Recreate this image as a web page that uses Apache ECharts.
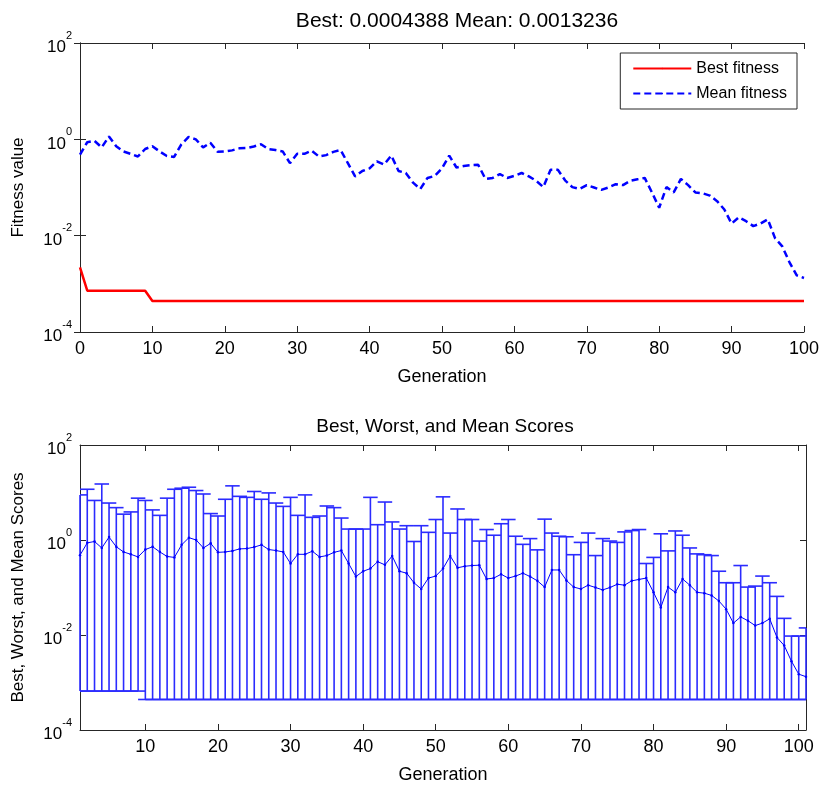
<!DOCTYPE html>
<html>
<head>
<meta charset="utf-8">
<script src="https://cdn.jsdelivr.net/npm/echarts@6/dist/echarts.min.js"></script>
<style>
  html, body { margin: 0; padding: 0; background: #fff; }
  #chart { width: 822px; height: 785px; }
</style>
</head>
<body>
<div id="chart"></div>
<script>
// generations 0..100
const generations = Array.from({length: 101}, (_, i) => i);

// top plot
const bestFitness = [
  0.0022, 0.00072, 0.00072, 0.00072, 0.00072, 0.00072, 0.00072, 0.00072, 0.00072, 0.00072,
  0.0004388, 0.0004388, 0.0004388, 0.0004388, 0.0004388, 0.0004388, 0.0004388, 0.0004388, 0.0004388, 0.0004388,
  0.0004388, 0.0004388, 0.0004388, 0.0004388, 0.0004388, 0.0004388, 0.0004388, 0.0004388, 0.0004388, 0.0004388,
  0.0004388, 0.0004388, 0.0004388, 0.0004388, 0.0004388, 0.0004388, 0.0004388, 0.0004388, 0.0004388, 0.0004388,
  0.0004388, 0.0004388, 0.0004388, 0.0004388, 0.0004388, 0.0004388, 0.0004388, 0.0004388, 0.0004388, 0.0004388,
  0.0004388, 0.0004388, 0.0004388, 0.0004388, 0.0004388, 0.0004388, 0.0004388, 0.0004388, 0.0004388, 0.0004388,
  0.0004388, 0.0004388, 0.0004388, 0.0004388, 0.0004388, 0.0004388, 0.0004388, 0.0004388, 0.0004388, 0.0004388,
  0.0004388, 0.0004388, 0.0004388, 0.0004388, 0.0004388, 0.0004388, 0.0004388, 0.0004388, 0.0004388, 0.0004388,
  0.0004388, 0.0004388, 0.0004388, 0.0004388, 0.0004388, 0.0004388, 0.0004388, 0.0004388, 0.0004388, 0.0004388,
  0.0004388, 0.0004388, 0.0004388, 0.0004388, 0.0004388, 0.0004388, 0.0004388, 0.0004388, 0.0004388, 0.0004388,
  0.0004388
];
const meanFitness = [
  0.48, 0.87, 0.93, 0.68, 1.15, 0.72, 0.56, 0.50, 0.44, 0.63,
  0.72, 0.56, 0.45, 0.43, 0.79, 1.12, 1.00, 0.68, 0.85, 0.55,
  0.56, 0.59, 0.65, 0.66, 0.71, 0.79, 0.63, 0.60, 0.56, 0.32,
  0.50, 0.50, 0.58, 0.44, 0.47, 0.55, 0.60, 0.32, 0.17, 0.22,
  0.25, 0.35, 0.30, 0.46, 0.22, 0.20, 0.126, 0.093, 0.158, 0.174,
  0.25, 0.46, 0.26, 0.28, 0.29, 0.295, 0.151, 0.158, 0.19, 0.158,
  0.174, 0.20, 0.17, 0.138, 0.102, 0.234, 0.234, 0.141, 0.102, 0.093,
  0.112, 0.10, 0.089, 0.10, 0.117, 0.112, 0.138, 0.148, 0.158, 0.079,
  0.038, 0.102, 0.079, 0.151, 0.112, 0.079, 0.076, 0.068, 0.052, 0.035,
  0.0178, 0.024, 0.020, 0.0158, 0.0178, 0.0219, 0.0089, 0.0060, 0.0028, 0.0015,
  0.0013236
];

// bottom plot, one error bar per generation (x = 1..101)
const worstScore = [
  8.9, 11.7, 6.8, 15.1, 6.0, 4.8, 3.5, 3.9, 7.6, 6.8,
  4.3, 3.3, 7.6, 11.7, 12.3, 12.9, 11.0, 9.3, 3.6, 3.2,
  7.2, 13.8, 8.3, 7.9, 10.5, 7.2, 9.8, 6.0, 5.1, 7.9,
  3.3, 8.9, 3.0, 3.2, 5.2, 4.8, 2.9, 1.7, 1.7, 1.7,
  7.9, 2.1, 6.3, 2.4, 1.7, 2.0, 0.93, 2.0, 1.45, 2.7,
  8.1, 1.4, 4.5, 2.7, 2.7, 0.95, 1.66, 1.26, 2.2, 2.7,
  1.2, 0.81, 1.07, 0.62, 2.75, 1.4, 1.2, 1.17, 0.49, 0.89,
  1.4, 0.47, 1.07, 0.95, 0.89, 1.48, 1.58, 1.66, 0.32, 0.43,
  1.35, 0.59, 1.55, 1.26, 0.68, 0.51, 0.49, 0.47, 0.22, 0.126,
  0.126, 0.29, 0.102, 0.107, 0.174, 0.126, 0.065, 0.0224, 0.0095, 0.0095,
  0.0141
];
const bestScore = [
  0.00066, 0.00066, 0.00066, 0.00066, 0.00066, 0.00066, 0.00066, 0.00066, 0.00066, 0.0004388,
  0.0004388, 0.0004388, 0.0004388, 0.0004388, 0.0004388, 0.0004388, 0.0004388, 0.0004388, 0.0004388, 0.0004388,
  0.0004388, 0.0004388, 0.0004388, 0.0004388, 0.0004388, 0.0004388, 0.0004388, 0.0004388, 0.0004388, 0.0004388,
  0.0004388, 0.0004388, 0.0004388, 0.0004388, 0.0004388, 0.0004388, 0.0004388, 0.0004388, 0.0004388, 0.0004388,
  0.0004388, 0.0004388, 0.0004388, 0.0004388, 0.0004388, 0.0004388, 0.0004388, 0.0004388, 0.0004388, 0.0004388,
  0.0004388, 0.0004388, 0.0004388, 0.0004388, 0.0004388, 0.0004388, 0.0004388, 0.0004388, 0.0004388, 0.0004388,
  0.0004388, 0.0004388, 0.0004388, 0.0004388, 0.0004388, 0.0004388, 0.0004388, 0.0004388, 0.0004388, 0.0004388,
  0.0004388, 0.0004388, 0.0004388, 0.0004388, 0.0004388, 0.0004388, 0.0004388, 0.0004388, 0.0004388, 0.0004388,
  0.0004388, 0.0004388, 0.0004388, 0.0004388, 0.0004388, 0.0004388, 0.0004388, 0.0004388, 0.0004388, 0.0004388,
  0.0004388, 0.0004388, 0.0004388, 0.0004388, 0.0004388, 0.0004388, 0.0004388, 0.0004388, 0.0004388, 0.0004388,
  0.0004388
];
const genTicks = [10, 20, 30, 40, 50, 60, 70, 80, 90, 100];
const logTicks = [0.0001, 0.01, 1, 100];

const FONT = '"Liberation Sans", Arial, sans-serif';
const axisColor = '#262626';
const blue = '#2b2bff';
const capHalf = 1; // half width of error bar caps, in generations

const chart = echarts.init(document.getElementById('chart'));

function powLabel(v) {
  const e = Math.round(Math.log10(v));
  return '{b|10}{e|' + e + '}';
}

const yLabel = {
  formatter: powLabel,
  margin: 8,
  customValues: logTicks,
  rich: {
    b: {fontSize: 17, fontFamily: FONT, color: '#000', lineHeight: 26, verticalAlign: 'bottom'},
    e: {fontSize: 11, fontFamily: FONT, color: '#000', verticalAlign: 'top', lineHeight: 14}
  }
};

function yAxisFor(gridIndex, side, name) {
  return {
    type: 'log', logBase: 10, gridIndex: gridIndex, position: side,
    min: 0.0001, max: 100,
    axisLine: {show: true, lineStyle: {color: axisColor, width: 1}},
    axisTick: {show: true, inside: true, length: 6, lineStyle: {color: axisColor}, customValues: logTicks},
    minorTick: {show: false},
    splitLine: {show: false},
    axisLabel: side === 'left' ? yLabel : {show: false, customValues: logTicks},
    name: name || '', nameLocation: 'middle', nameGap: 53,
    nameTextStyle: {fontSize: 17, fontFamily: FONT, color: '#000'}
  };
}

function xAxisFor(gridIndex, side, opts) {
  return Object.assign({
    type: 'value', gridIndex: gridIndex, position: side,
    axisLine: {show: true, onZero: false, lineStyle: {color: axisColor, width: 1}},
    axisTick: {show: true, inside: true, length: 6, lineStyle: {color: axisColor}},
    splitLine: {show: false},
    axisLabel: side === 'bottom'
      ? {fontSize: 18, fontFamily: FONT, color: '#000', margin: 8}
      : {show: false},
    name: side === 'bottom' ? 'Generation' : '', nameLocation: 'middle', nameGap: 36,
    nameTextStyle: {fontSize: 18, fontFamily: FONT, color: '#000'}
  }, opts);
}

function renderErrorBar(params, api) {
  const cs = params.coordSys;
  const clampX = v => Math.max(cs.x, Math.min(cs.x + cs.width, v));
  const x = api.value(0);
  const lo = api.coord([x, api.value(1)]);
  const hi = api.coord([x, api.value(2)]);
  const l = clampX(api.coord([x - capHalf, api.value(2)])[0]);
  const r = clampX(api.coord([x + capHalf, api.value(2)])[0]);
  const style = {stroke: blue, lineWidth: 1.6, fill: null};
  return {
    type: 'group',
    children: [
      {type: 'line', shape: {x1: lo[0], y1: lo[1], x2: hi[0], y2: hi[1]}, style: style},
      {type: 'line', shape: {x1: l, y1: hi[1], x2: r, y2: hi[1]}, style: style},
      {type: 'line', shape: {x1: l, y1: lo[1], x2: r, y2: lo[1]}, style: style}
    ]
  };
}

const option = {
  backgroundColor: '#fff',
  animation: false,
  textStyle: {fontFamily: FONT},
  title: [
    {text: 'Best: 0.0004388 Mean: 0.0013236', left: 452, top: 6, textAlign: 'center',
     textStyle: {fontSize: 21, fontWeight: 'normal', fontFamily: FONT, color: '#000'}},
    {text: 'Best, Worst, and Mean Scores', left: 440, top: 412, textAlign: 'center',
     textStyle: {fontSize: 19, fontWeight: 'normal', fontFamily: FONT, color: '#000'}}
  ],
  legend: {
    data: ['Best fitness', 'Mean fitness'],
    orient: 'vertical', right: 25, top: 53,
    itemWidth: 58, itemHeight: 2, itemGap: 6,
    padding: [6, 10, 6, 12],
    borderColor: axisColor, borderWidth: 1, backgroundColor: '#fff',
    textStyle: {fontSize: 16, fontFamily: FONT, color: '#000', lineHeight: 19}
  },
  grid: [
    {left: 80, top: 43, width: 726, height: 289},
    {left: 80, top: 445, width: 726, height: 289}
  ],
  xAxis: [
    xAxisFor(0, 'bottom', {min: 0, max: 100, interval: 10}),
    xAxisFor(0, 'top', {min: 0, max: 100, interval: 10}),
    xAxisFor(1, 'bottom', {min: 1, max: 101,
      axisLabel: {fontSize: 18, fontFamily: FONT, color: '#000', margin: 8, customValues: genTicks},
      axisTick: {show: true, inside: true, length: 6, lineStyle: {color: axisColor}, customValues: genTicks}}),
    xAxisFor(1, 'top', {min: 1, max: 101,
      axisTick: {show: true, inside: true, length: 6, lineStyle: {color: axisColor}, customValues: genTicks}})
  ],
  yAxis: [
    yAxisFor(0, 'left', 'Fitness value'),
    yAxisFor(0, 'right'),
    yAxisFor(1, 'left', 'Best, Worst, and Mean Scores'),
    yAxisFor(1, 'right')
  ],
  series: [
    {
      name: 'Best fitness', type: 'line', xAxisIndex: 0, yAxisIndex: 0,
      data: generations.map((g, i) => [g, bestFitness[i]]),
      showSymbol: false, symbol: 'none',
      lineStyle: {color: '#ff0000', width: 2.5},
      itemStyle: {color: '#ff0000'}
    },
    {
      name: 'Mean fitness', type: 'line', xAxisIndex: 0, yAxisIndex: 0,
      data: generations.map((g, i) => [g, meanFitness[i]]),
      showSymbol: false, symbol: 'none',
      lineStyle: {color: '#0000ff', width: 2.5, type: [7, 4]},
      itemStyle: {color: '#0000ff'}
    },
    {
      name: 'Scores', type: 'custom', xAxisIndex: 2, yAxisIndex: 2,
      renderItem: renderErrorBar,
      encode: {x: 0, y: [1, 2]},
      data: generations.map((g, i) => [g + 1, bestScore[i], worstScore[i]]),
      z: 2
    },
    {
      name: 'Mean score', type: 'line', xAxisIndex: 2, yAxisIndex: 2,
      data: generations.map((g, i) => [g + 1, meanFitness[i]]),
      symbol: 'circle', symbolSize: 2.5, showSymbol: true,
      lineStyle: {color: '#0000ff', width: 1},
      itemStyle: {color: '#0000ff'},
      z: 3
    }
  ]
};

chart.setOption(option);
</script>
</body>
</html>
